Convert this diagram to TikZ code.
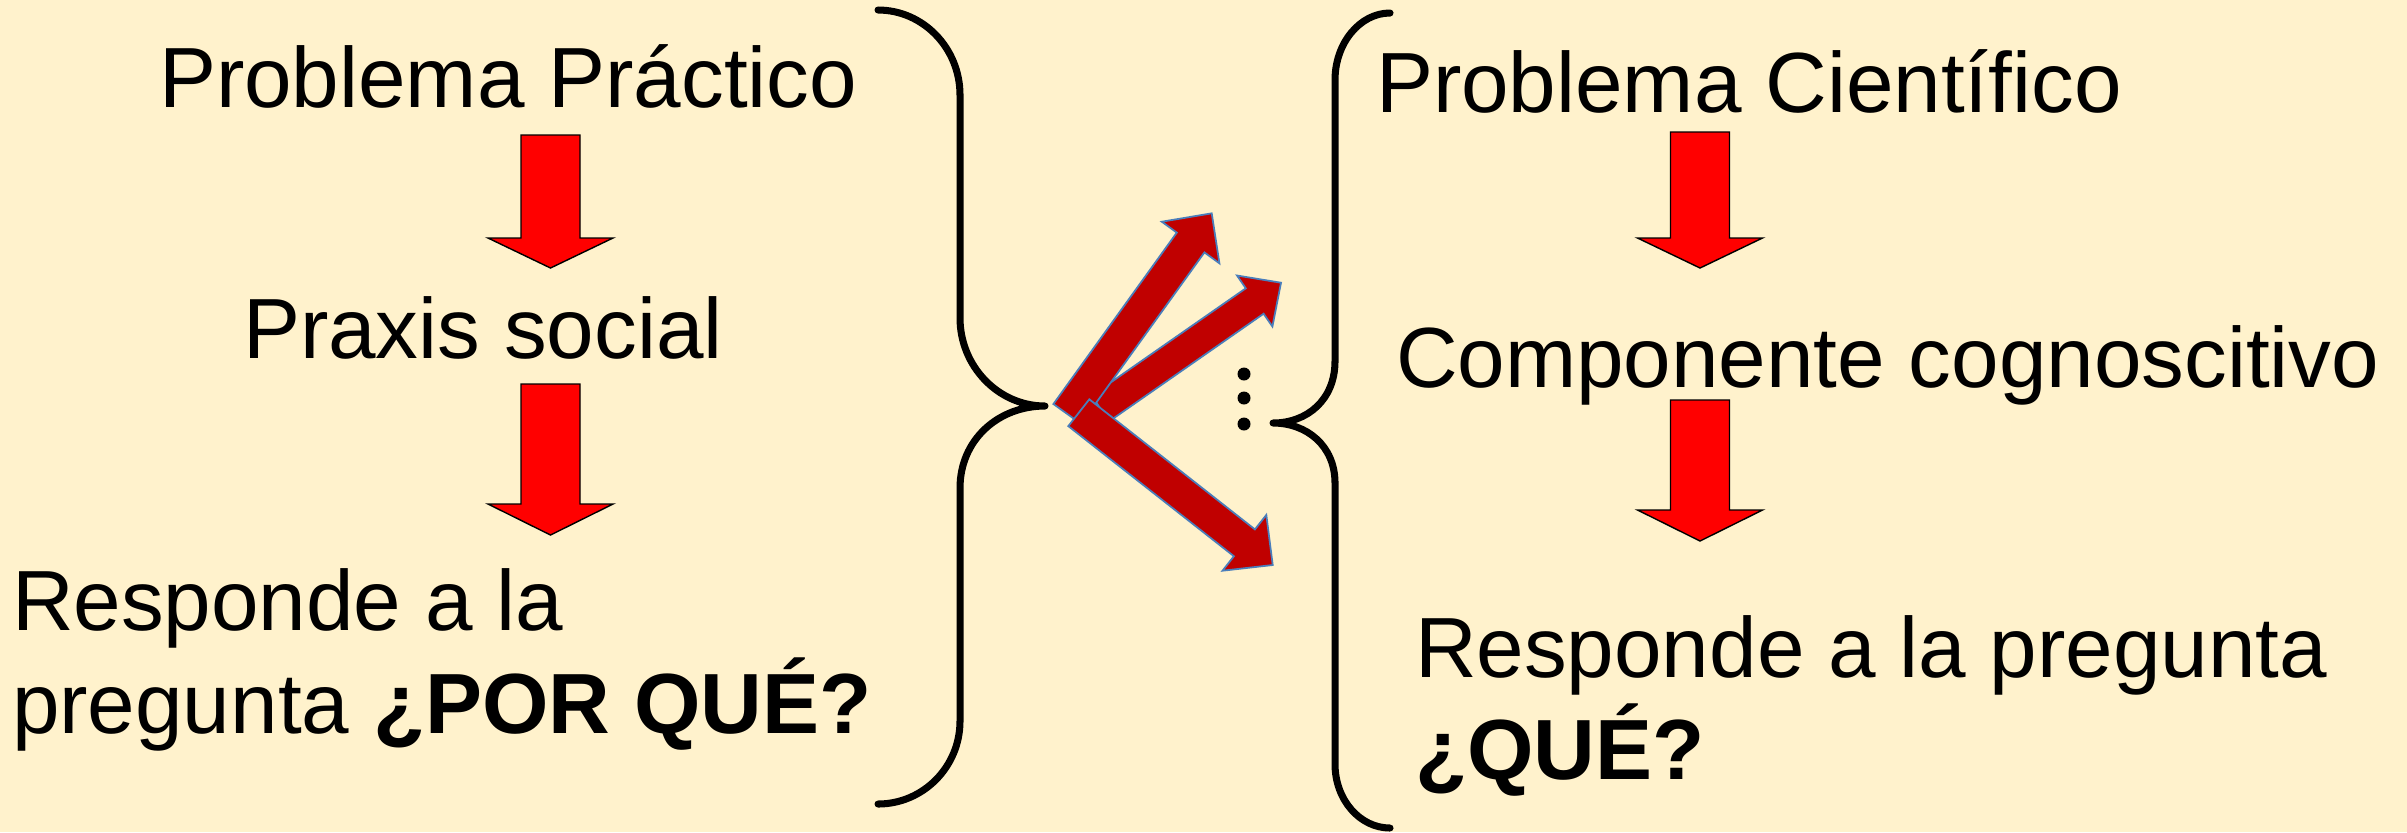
\documentclass[tikz,border=0pt]{standalone}
\usepackage{fontspec}
\setmainfont{Liberation Sans}
\definecolor{bgcol}{RGB}{255,242,204}
\definecolor{arrred}{RGB}{255,0,0}
\definecolor{arrdark}{RGB}{192,0,0}
\definecolor{arrblue}{RGB}{74,126,187}
\newcommand\lbfont{\fontsize{24.3}{29}\selectfont}
\newcommand\DArrow[4]{%
  \draw[downarr] ({#1-29.5},#2) -- ({#1+29.5},#2) -- ({#1+29.5},#3) -- ({#1+62.5},#3)
    -- (#1,#4) -- ({#1-62.5},#3) -- ({#1-29.5},#3) -- cycle;}
\tikzset{
  downarr/.style={fill=arrred, draw=black, line width=0.4pt, line join=miter},
  diagarr/.style={fill=arrdark, draw=arrblue, line width=0.5pt, line join=miter},
  bracestyle/.style={draw=black, line width=2pt, line cap=round, line join=round},
  lbl/.style={anchor=base west, inner sep=0pt, outer sep=0pt, font=\lbfont, text=black},
}
\begin{document}
\begin{tikzpicture}[x=0.01cm, y=-0.01cm]
\fill[bgcol] (0,0) rectangle (2407,832);
\useasboundingbox (0,0) rectangle (2407,832);

% left column
\node[lbl] (pp) at (159,107) {Problema Práctico};
\node[lbl] (ps) at (243,358) {Praxis social};
\node[lbl] (r1a) at (12,630) {Responde a la};
\node[lbl] (r1b) at (12,733) {pregunta \textbf{¿POR QUÉ?}};
\DArrow{550.5}{135}{238}{268}
\DArrow{550.5}{384}{504}{535}

% right column
\node[lbl] (pc) at (1376,112) {Problema Científico};
\node[lbl] (cc) at (1396,387) {Componente cognoscitivo};
\node[lbl] (r2a) at (1415,677) {Responde a la pregunta};
\node[lbl] (r2b) at (1415,779) {\textbf{¿QUÉ?}};
\DArrow{1700}{132}{238}{268}
\DArrow{1700}{400}{510}{541}

% left brace  }
\draw[bracestyle] (878,10) .. controls (923,10) and (960,48) .. (960,95)
  -- (960,318) .. controls (960,366) and (998,406) .. (1045,406)
  .. controls (998,406) and (960,440) .. (960,488)
  -- (960,721) .. controls (960,767) and (923,804) .. (878,804);

% right brace  {
\draw[bracestyle] (1390,13) .. controls (1360,13) and (1335,43) .. (1335,80)
  -- (1335,361) .. controls (1335,400) and (1307,423) .. (1273,423)
  .. controls (1307,423) and (1335,446) .. (1335,483)
  -- (1335,764) .. controls (1335,800) and (1360,828) .. (1390,828);

% dots
\foreach \yy in {374,398,424} \fill[black] (1244,\yy) circle (6.5);

% diagonal arrows
\draw[diagarr] (1109.3,421.2) -- (1263.6,313.7) -- (1272.4,326.5) -- (1281,282.7)
  -- (1237.0,275.5) -- (1245.8,288.3) -- (1091.5,395.8) -- cycle;
\draw[diagarr] (1081.0,423.8) -- (1204.4,252.4) -- (1219.4,263.3) -- (1211.7,213.3)
  -- (1161.8,221.7) -- (1176.8,232.6) -- (1053.4,404.0) -- cycle;
\draw[diagarr] (1089.3,399.3) -- (1254.9,529.4) -- (1266.3,514.9) -- (1272.7,565)
  -- (1222.5,570.7) -- (1233.9,556.2) -- (1068.3,426.1) -- cycle;
\end{tikzpicture}
\end{document}
